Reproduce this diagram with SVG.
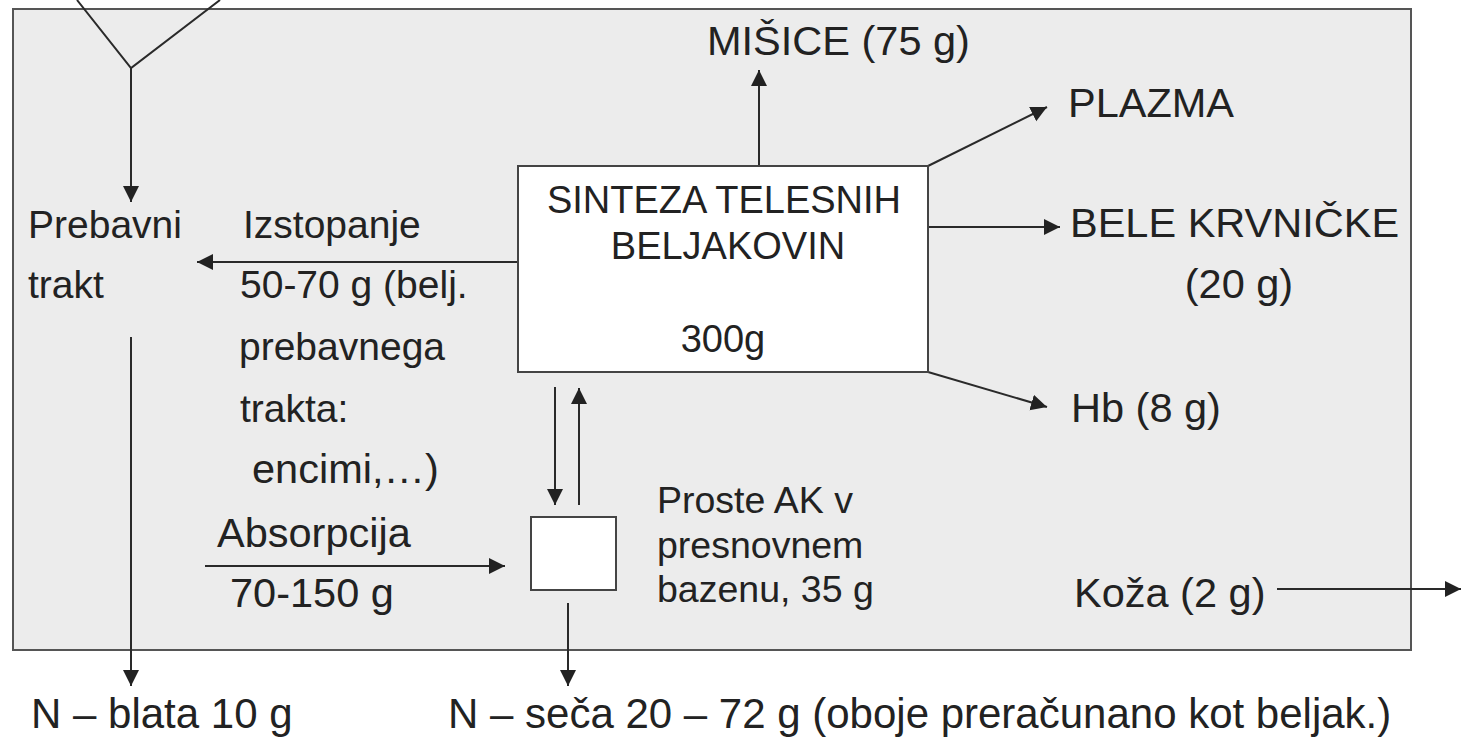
<svg xmlns="http://www.w3.org/2000/svg" width="1462" height="738" viewBox="0 0 1462 738">
<defs>
<marker id="ah" markerUnits="userSpaceOnUse" markerWidth="18" markerHeight="18" refX="16" refY="8" orient="auto">
<path d="M0,0 L16,8 L0,16 z" fill="#222"/>
</marker>
<style>
text{font-family:"Liberation Sans",Arial,sans-serif;fill:#222;}
.l{font-size:39px;}
.r{font-size:41.5px;}
.s{font-size:38px;text-anchor:middle;}
.p{font-size:37.5px;}
.b{font-size:42px;}
.c{stroke:#2a2a2a;stroke-width:2;fill:none;}
.a{marker-end:url(#ah);}
.box{fill:#fff;stroke:#444;stroke-width:2;}
</style>
</defs>
<rect width="1462" height="738" fill="#fff"/>
<g id="frame"><rect x="13" y="9" width="1398" height="641" fill="#ececec" stroke="#555" stroke-width="2"/></g>
<g id="connectors">
<path class="c" d="M77,0 L131,68 L220,0"/>
<path class="c a" d="M131,68 L131,202"/>
<path class="c a" d="M518,262 L197,262"/>
<path class="c a" d="M131,337 L131,686"/>
<path class="c a" d="M759,166 L759,70"/>
<path class="c a" d="M928,166 L1047,107"/>
<path class="c a" d="M928,227 L1060,227"/>
<path class="c a" d="M928,372 L1047,407"/>
<path class="c a" d="M555,387 L555,505"/>
<path class="c a" d="M579,505 L579,388"/>
<path class="c a" d="M205,566 L505,566"/>
<path class="c a" d="M568,603 L568,686"/>
<path class="c a" d="M1277,589 L1461,589"/>
</g>
<g id="sinteza">
<rect class="box" x="518" y="166" width="410" height="206"/>
<text class="s" x="724" y="213">SINTEZA TELESNIH</text>
<text class="s" x="728" y="259">BELJAKOVIN</text>
<text class="s" x="723" y="352">300g</text>
</g>
<g id="bazen">
<rect class="box" x="531" y="517" width="85" height="73"/>
<text class="p" x="657" y="513">Proste AK v</text>
<text class="p" x="657" y="558">presnovnem</text>
<text class="p" x="657" y="602">bazenu, 35 g</text>
</g>
<g id="prebavni"><text class="l" x="28" y="238">Prebavni</text><text class="l" x="28" y="298">trakt</text></g>
<g id="izstopanje">
<text class="l" x="243" y="238">Izstopanje</text>
<text class="l" x="240" y="298">50-70 g (belj.</text>
<text class="l" x="239" y="360">prebavnega</text>
<text class="l" x="240" y="422">trakta:</text>
<text class="r" x="252" y="483">encimi,…)</text>
</g>
<g id="absorpcija"><text class="r" x="217" y="547">Absorpcija</text><text class="r" x="230" y="607">70-150 g</text></g>
<g id="misice"><text class="r" x="707" y="55">MIŠICE (75 g)</text></g>
<g id="plazma"><text class="r" x="1068" y="117">PLAZMA</text></g>
<g id="bele"><text class="r" x="1070" y="237">BELE KRVNIČKE</text><text class="r" x="1239" y="298" text-anchor="middle">(20 g)</text></g>
<g id="hb"><text class="r" x="1071" y="422">Hb (8 g)</text></g>
<g id="koza"><text class="r" x="1074" y="607">Koža (2 g)</text></g>
<g id="blata"><text class="b" x="31" y="728">N – blata 10 g</text></g>
<g id="seca"><text class="b" x="448" y="728">N – seča 20 – 72 g (oboje preračunano kot beljak.)</text></g>
</svg>
